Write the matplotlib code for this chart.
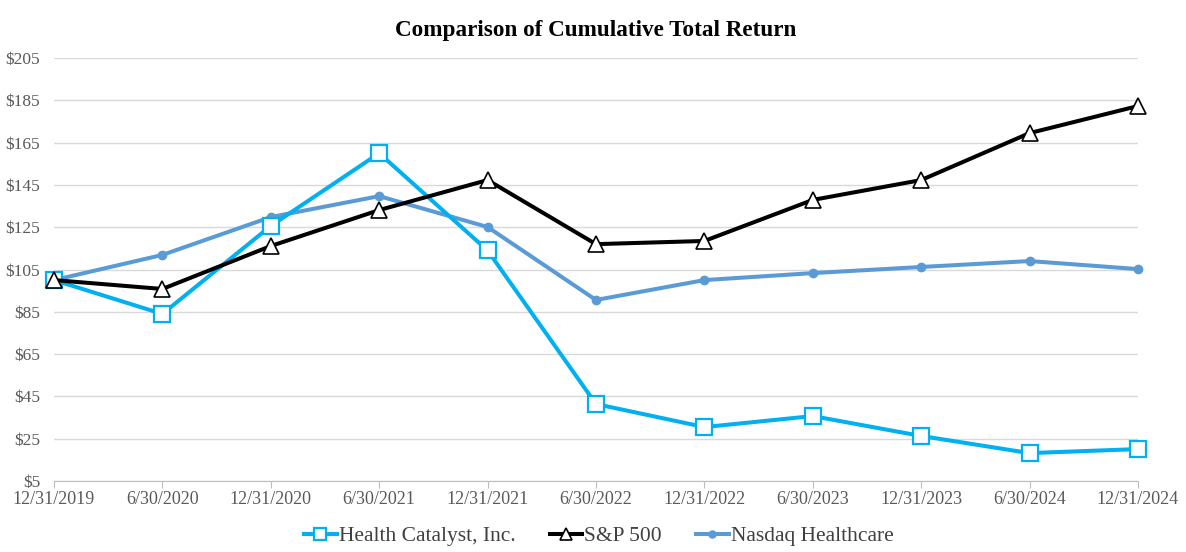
import matplotlib
matplotlib.use("Agg")
import matplotlib.pyplot as plt
from matplotlib.ticker import FuncFormatter

plt.rcParams['font.family'] = ['Liberation Serif', 'DejaVu Serif']

dates = ["12/31/2019", "6/30/2020", "12/31/2020", "6/30/2021", "12/31/2021",
         "6/30/2022", "12/31/2022", "6/30/2023", "12/31/2023", "6/30/2024",
         "12/31/2024"]
health_catalyst = [100, 84, 125.6, 160, 114, 41.4, 30.5, 35.7, 26.3, 18.2, 20.1]
sp500 = [100, 95.8, 116.1, 133.1, 147.3, 117, 118.5, 137.9, 147.3, 169.5, 182.3]
nasdaq_health = [100, 111.9, 129.8, 139.7, 125.1, 90.6, 100, 103.3, 106.2, 109, 105.2]

fig = plt.figure(figsize=(11.86, 5.52), dpi=100)
ax = fig.add_axes([0.0455, 0.1286, 0.914, 0.7663])

x = list(range(len(dates)))
ax.plot(x, health_catalyst, color="#00B0F0", lw=2.9, marker="s", ms=11,
        mfc="white", mec="#00B0F0", mew=1.6, label="Health Catalyst, Inc.",
        zorder=3, clip_on=False)
ax.plot(x, sp500, color="black", lw=2.9, marker="^", ms=11,
        mfc="white", mec="black", mew=1.2, label="S&P 500", zorder=4,
        clip_on=False)
ax.plot(x, nasdaq_health, color="#5B9BD5", lw=2.9, marker="o", ms=6,
        mfc="#5B9BD5", mec="#5B9BD5", label="Nasdaq Healthcare", zorder=2,
        clip_on=False)

ax.set_xlim(0, len(dates) - 1)
ax.set_ylim(5, 205)
ax.set_yticks(range(5, 206, 20))
ax.yaxis.set_major_formatter(FuncFormatter(lambda v, p: f"${v:.0f}"))
ax.set_xticks(x)
ax.set_xticklabels(dates)
ax.grid(axis="y", color="#d9d9d9", lw=1)
ax.set_axisbelow(True)
for s in ["top", "right", "left"]:
    ax.spines[s].set_visible(False)
ax.spines["bottom"].set_color("#bfbfbf")
ax.tick_params(axis="y", length=0, labelsize=12.5, labelcolor="#595959", pad=10)
ax.tick_params(axis="x", length=5, color="#bfbfbf", labelsize=13,
               labelcolor="#595959", pad=2)

ax.set_title("Comparison of Cumulative Total Return", fontsize=16.7,
             fontweight="bold", pad=16)
fig.legend(loc="lower center", ncol=3, frameon=False, fontsize=15.5,
           bbox_to_anchor=(0.505, -0.025), handlelength=1.5, handletextpad=0.1,
           columnspacing=1.6, labelcolor="#404040", markerscale=0.85)

fig.savefig("out.png", dpi=100)
